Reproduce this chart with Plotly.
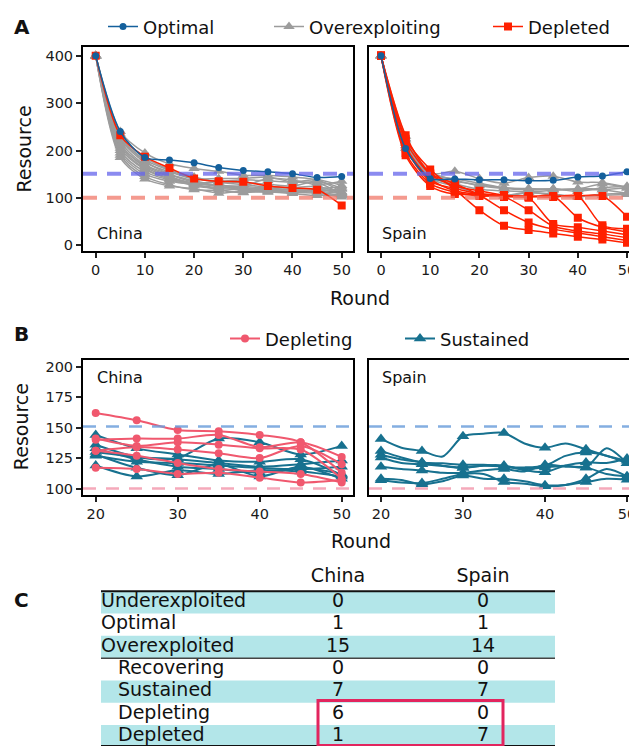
import plotly.graph_objects as go

# page shows the figure with an 8px body margin; size the figure to the visible area
OFF = 8
W, H = 637 - OFF, 749 - OFF

# ---------------- data ----------------
ROUNDS_A = [0, 5, 10, 15, 20, 25, 30, 35, 40, 45, 50]
ROUNDS_B = [20, 25, 30, 35, 40, 45, 50]
ROUNDS_B_FINE = [20, 22.5, 25, 27.5, 30, 32.5, 35, 37.5, 40, 42.5, 45, 47.5, 50]

CHINA_OPTIMAL = [400, 240, 185, 180, 174, 164, 158, 155, 151, 143, 145]
CHINA_DEPLETED = [400, 232, 187, 163, 141, 135, 134, 125, 121, 117, 84]
SPAIN_OPTIMAL = [400, 204, 141, 140, 138, 138, 136, 137, 144, 146, 155]
SPAIN_DEPLETED = [
    [400, 225, 160, 118, 74, 41, 32, 25, 18, 12, 5],
    [400, 232, 152, 130, 106, 74, 48, 34, 26, 18, 10],
    [400, 195, 130, 112, 104, 102, 74, 40, 30, 24, 16],
    [400, 190, 125, 108, 108, 104, 100, 45, 38, 30, 22],
    [400, 210, 140, 115, 107, 103, 102, 104, 58, 38, 28],
    [400, 220, 150, 125, 115, 106, 103, 102, 104, 42, 35],
    [400, 205, 135, 120, 109, 105, 104, 103, 104, 104, 60],
]

# China overexploiting groups (rounds 20-50)
CHINA_DEPLETING_B = [
    [162, 156, 148, 147, 144, 138, 113],
    [140, 141, 141, 144, 134, 138, 126],
    [141, 135, 138, 136, 133, 132, 108],
    [131, 134, 132, 129, 125, 135, 120],
    [131, 127, 121, 116, 114, 112, 105],
    [117, 116, 112, 113, 109, 105, 107],
]
CHINA_SUSTAINED_B = [
    [144, 133, 128, 123, 122, 124, 111],
    [136, 126, 125, 141, 138, 128, 135],
    [130, 126, 124, 121, 118, 120, 123],
    [127, 122, 121, 119, 117, 116, 118],
    [133, 124, 118, 116, 113, 117, 112],
    [128, 117, 111, 120, 110, 118, 108],
    [119, 110, 115, 112, 115, 114, 110],
]
CHINA_OTHER_LATE = [
    [125, 120, 117, 114, 112, 110, 102],
]
# China overexploiting, rounds 0-15 (same order: depleting, sustained, other)
CHINA_OVER_EARLY = [
    [400, 240, 195, 172], [400, 225, 175, 155], [400, 230, 180, 158],
    [400, 215, 165, 145], [400, 205, 160, 140], [400, 190, 145, 128],
    [400, 235, 185, 160], [400, 220, 170, 150], [400, 210, 162, 142],
    [400, 200, 155, 138], [400, 228, 178, 150], [400, 195, 150, 135],
    [400, 185, 140, 125], [400, 212, 168, 146],
]

# Spain sustained (rounds 20-50 in half steps)
SPAIN_SUSTAINED_B = [
    [140.7, 133.5, 130.8, 126.3, 142.9, 145.0, 145.6, 137.0, 133.5, 137.0, 132.2, 127.0, 122.8],
    [130.9, 125.5, 121.5, 120.7, 119.6, 119.5, 118.0, 117.4, 118.8, 126.8, 129.5, 127.0, 120.7],
    [127.7, 123.8, 121.5, 118.8, 117.0, 118.8, 118.0, 116.0, 117.4, 118.8, 117.4, 133.0, 120.7],
    [125.5, 121.0, 120.0, 118.5, 117.0, 119.0, 119.0, 115.0, 113.5, 119.0, 121.5, 121.0, 124.7],
    [118.0, 116.0, 114.8, 113.0, 113.0, 115.0, 116.0, 114.0, 119.5, 118.0, 117.4, 112.0, 110.0],
    [108.0, 107.0, 103.5, 106.0, 110.7, 108.0, 108.0, 106.0, 102.7, 103.0, 105.4, 108.0, 107.3],
    [106.8, 105.0, 104.6, 108.0, 112.0, 112.0, 105.4, 104.0, 102.0, 103.0, 108.0, 116.0, 110.0],
]
SPAIN_SUSTAINED_EARLY = [
    [400, 230, 152, 156], [400, 222, 150, 140], [400, 215, 148, 135],
    [400, 225, 155, 138], [400, 210, 145, 130], [400, 205, 140, 125],
    [400, 218, 146, 128],
]

OPTIMAL_LEVEL = 151
DEPLETION_LEVEL = 100

TABLE_ROWS = ["Underexploited", "Optimal", "Overexploited",
              "Recovering", "Sustained", "Depleting", "Depleted"]
ROW_LEVEL = [0, 0, 0, 1, 1, 1, 1]
TABLE_COLS = ["China", "Spain"]
CHINA_COUNTS = [0, 1, 15, 0, 7, 6, 1]
SPAIN_COUNTS = [0, 1, 14, 0, 7, 0, 7]

# ---------------- style ----------------
FONT = "DejaVu Sans"
C_OPT = "#14609C"
C_GRAY = "#9C9C9C"
C_RED = "#FF2000"
C_PINK = "#F0586E"
C_TEAL = "#17718F"
C_BAND = "#B3E6E9"
C_BOX = "#E2255E"

def px_x(p):
    return (p - OFF) / W

def px_y(p):
    return 1 - (p - OFF) / H

fig = go.Figure()

def add_line(x, y, color, symbol, msize, lw, xa, ya, name, show, legend,
             mode="lines+markers"):
    fig.add_trace(go.Scatter(
        x=x, y=y, mode=mode,
        line=dict(color=color, width=lw, shape="spline", smoothing=0.8),
        marker=dict(color=color, symbol=symbol, size=msize),
        xaxis=xa, yaxis=ya, name=name, showlegend=show, legend=legend,
        hoverinfo="skip"))

# ---- Panel A: China ----
china_over_late = CHINA_DEPLETING_B + CHINA_SUSTAINED_B + CHINA_OTHER_LATE
for i, early in enumerate(CHINA_OVER_EARLY):
    add_line(ROUNDS_A, early + china_over_late[i], C_GRAY, "triangle-up", 10,
             1.5, "x", "y", "Overexploiting", i == 0, "legend2")
add_line(ROUNDS_A, CHINA_DEPLETED, C_RED, "square", 8, 1.5, "x", "y",
         "Depleted", True, "legend3")
add_line(ROUNDS_A, CHINA_OPTIMAL, C_OPT, "circle", 7, 1.5, "x", "y",
         "Optimal", True, "legend")

# ---- Panel A: Spain ----
for i, early in enumerate(SPAIN_SUSTAINED_EARLY):
    add_line(ROUNDS_A, early + SPAIN_SUSTAINED_B[i][::2], C_GRAY,
             "triangle-up", 10, 1.5, "x2", "y2", "Overexploiting", False, "legend2")
for s in SPAIN_DEPLETED:
    add_line(ROUNDS_A, s, C_RED, "square", 8, 1.5, "x2", "y2",
             "Depleted", False, "legend3")
add_line(ROUNDS_A, SPAIN_OPTIMAL, C_OPT, "circle", 7, 1.5, "x2", "y2",
         "Optimal", False, "legend")

# ---- Panel B: China ----
for i, s in enumerate(CHINA_SUSTAINED_B):
    add_line(ROUNDS_B, s, C_TEAL, "triangle-up", 11, 2, "x3", "y3",
             "Sustained", i == 0, "legend5")
for i, s in enumerate(CHINA_DEPLETING_B):
    add_line(ROUNDS_B, s, C_PINK, "circle", 8, 2, "x3", "y3",
             "Depleting", i == 0, "legend4")

# ---- Panel B: Spain (smooth line through half-steps, markers every 5 rounds) ----
for s in SPAIN_SUSTAINED_B:
    add_line(ROUNDS_B_FINE, s, C_TEAL, "triangle-up", 11, 2, "x4", "y4",
             "Sustained", False, "legend5", mode="lines")
    add_line(ROUNDS_B_FINE[::2], s[::2], C_TEAL, "triangle-up", 11, 2, "x4", "y4",
             "Sustained", False, "legend5", mode="markers")

# ---- Table C ----
row_idx = list(range(len(TABLE_ROWS)))
fig.add_trace(go.Scatter(
    x=[0 + 17 * lv for lv in ROW_LEVEL], y=row_idx, text=TABLE_ROWS,
    mode="text", textposition="middle right",
    textfont=dict(size=19, color="#111111", family=FONT),
    xaxis="x5", yaxis="y5", showlegend=False, hoverinfo="skip"))
for col_x, counts in zip([237, 382], [CHINA_COUNTS, SPAIN_COUNTS]):
    fig.add_trace(go.Scatter(
        x=[col_x] * len(counts), y=row_idx, text=[str(c) for c in counts],
        mode="text", textposition="middle center",
        textfont=dict(size=19, color="#111111", family=FONT),
        xaxis="x5", yaxis="y5", showlegend=False, hoverinfo="skip"))
fig.add_trace(go.Scatter(
    x=[237, 382], y=[-1.13, -1.13], text=TABLE_COLS,
    mode="text", textposition="middle center",
    textfont=dict(size=19, color="#111111", family=FONT),
    xaxis="x5", yaxis="y5", showlegend=False, hoverinfo="skip"))

shapes = []
for i in row_idx:
    if i % 2 == 0:
        shapes.append(dict(type="rect", xref="x5", yref="y5", x0=0, x1=454,
                           y0=i - 0.5, y1=i + 0.5, fillcolor=C_BAND,
                           line=dict(width=0), layer="below"))
shapes.append(dict(type="line", xref="x5", yref="y5", x0=0, x1=454,
                   y0=-0.5, y1=-0.5, line=dict(color="#111111", width=2)))
shapes.append(dict(type="line", xref="x5", yref="y5", x0=0, x1=454,
                   y0=2.5, y1=2.5, line=dict(color="#444444", width=1.5)))
shapes.append(dict(type="line", xref="x5", yref="y5", x0=0, x1=454,
                   y0=6.45, y1=6.45, line=dict(color="#111111", width=2)))
shapes.append(dict(type="rect", xref="x5", yref="y5", x0=217, x1=402,
                   y0=4.4, y1=6.42, line=dict(color=C_BOX, width=3),
                   fillcolor="rgba(0,0,0,0)"))

# reference dashed lines
for xa, ya, big in [("x", "y", True), ("x2", "y2", True),
                    ("x3", "y3", False), ("x4", "y4", False)]:
    if big:
        specs = [(OPTIMAL_LEVEL, "rgba(100,100,235,0.75)", 4, "14px,10px"),
                 (DEPLETION_LEVEL, "rgba(240,120,105,0.75)", 4, "14px,10px")]
    else:
        specs = [(OPTIMAL_LEVEL, "rgba(110,160,220,0.85)", 2.5, "13px,10px"),
                 (DEPLETION_LEVEL, "rgba(244,160,178,0.9)", 2.5, "13px,10px")]
    for lvl, col, lw, dash in specs:
        shapes.append(dict(type="line", xref=f"{xa} domain", yref=ya,
                           x0=0, x1=1, y0=lvl, y1=lvl, layer="above",
                           line=dict(color=col, width=lw, dash=dash)))

# ---------------- axes ----------------
TICKF = dict(size=14.5, color="#1a1a1a", family=FONT)
dom_cx = [px_x(83), px_x(353)]
dom_sx = [px_x(369), 1.0]
dom_ay = [px_y(244), px_y(37)]
dom_by = [px_y(493), px_y(355.7)]

def xax(dom, rng, anchor, tickvals, mirror=True):
    return dict(domain=dom, range=rng, anchor=anchor, tickvals=tickvals,
                showline=True, linecolor="black", linewidth=2, mirror=mirror,
                ticks="outside", ticklen=5, tickwidth=1.5, tickcolor="#222",
                showgrid=False, zeroline=False, tickfont=TICKF)

def yax(dom, rng, anchor, tickvals, labels=True):
    d = dict(domain=dom, range=rng, anchor=anchor, showline=True,
             linecolor="black", linewidth=2, showgrid=False, zeroline=False,
             tickfont=TICKF)
    if labels:
        d.update(tickvals=tickvals, ticks="outside", ticklen=5, tickwidth=1.5,
                 tickcolor="#222", mirror=True)
    else:
        d.update(showticklabels=False, ticks="", mirror=False)
    return d

legend_common = dict(orientation="h", yanchor="middle", xanchor="left",
                     bgcolor="rgba(0,0,0,0)", borderwidth=0,
                     font=dict(size=18, color="#111111", family=FONT))

fig.update_layout(
    width=W, height=H, margin=dict(l=0, r=0, t=0, b=0),
    paper_bgcolor="white", plot_bgcolor="white",
    font=dict(family=FONT, color="#111111"),
    hovermode=False,
    xaxis=xax(dom_cx, [-2.58, 52.30], "y", [0, 10, 20, 30, 40, 50]),
    yaxis=yax(dom_ay, [-11.2, 417.6], "x", [0, 100, 200, 300, 400]),
    xaxis2=xax(dom_sx, [-2.44, 52.03], "y2", [0, 10, 20, 30, 40, 50]),
    yaxis2=yax(dom_ay, [-11.2, 417.6], "x2", None, labels=False),
    xaxis3=xax(dom_cx, [18.45, 51.38], "y3", [20, 30, 40, 50]),
    yaxis3=yax(dom_by, [94.9, 205.3], "x3", [100, 125, 150, 175, 200]),
    xaxis4=xax(dom_sx, [18.54, 51.22], "y4", [20, 30, 40, 50]),
    yaxis4=yax(dom_by, [94.9, 205.3], "x4", None, labels=False),
    xaxis5=dict(domain=[px_x(101), px_x(555)], range=[0, 454], anchor="y5",
                visible=False, fixedrange=True),
    yaxis5=dict(domain=[0, px_y(562)], range=[6.445, -1.793],
                anchor="x5", visible=False, fixedrange=True),
    legend=dict(legend_common, x=px_x(103), y=px_y(16)),
    legend2=dict(legend_common, x=px_x(269), y=px_y(16)),
    legend3=dict(legend_common, x=px_x(488), y=px_y(16)),
    legend4=dict(legend_common, x=px_x(225), y=px_y(334)),
    legend5=dict(legend_common, x=px_x(400), y=px_y(334)),
    shapes=shapes,
)

# ---------------- annotations ----------------
ann = []
def add_text(text, x, y, size, xanchor="center", bold=False, angle=0):
    ann.append(dict(text=f"<b>{text}</b>" if bold else text, x=px_x(x), y=px_y(y),
                    xref="paper", yref="paper", showarrow=False,
                    xanchor=xanchor, yanchor="middle", textangle=angle,
                    font=dict(size=size, family=FONT, color="#111111")))

add_text("A", 12, 16, 20, "left", bold=True)
add_text("B", 12, 329, 20, "left", bold=True)
add_text("C", 12, 600, 20, "left", bold=True)
add_text("Resource", 24, 141, 19, angle=-90)
add_text("Resource", 21, 424, 19, angle=-90)
add_text("Round", 360, 292, 19)
add_text("Round", 361, 540, 19)
add_text("China", 95, 227, 16, "left")
add_text("Spain", 380, 227, 16, "left")
add_text("China", 95, 373, 16, "left")
add_text("Spain", 380, 373, 16, "left")
fig.update_layout(annotations=ann)

fig.write_html("out.html")
